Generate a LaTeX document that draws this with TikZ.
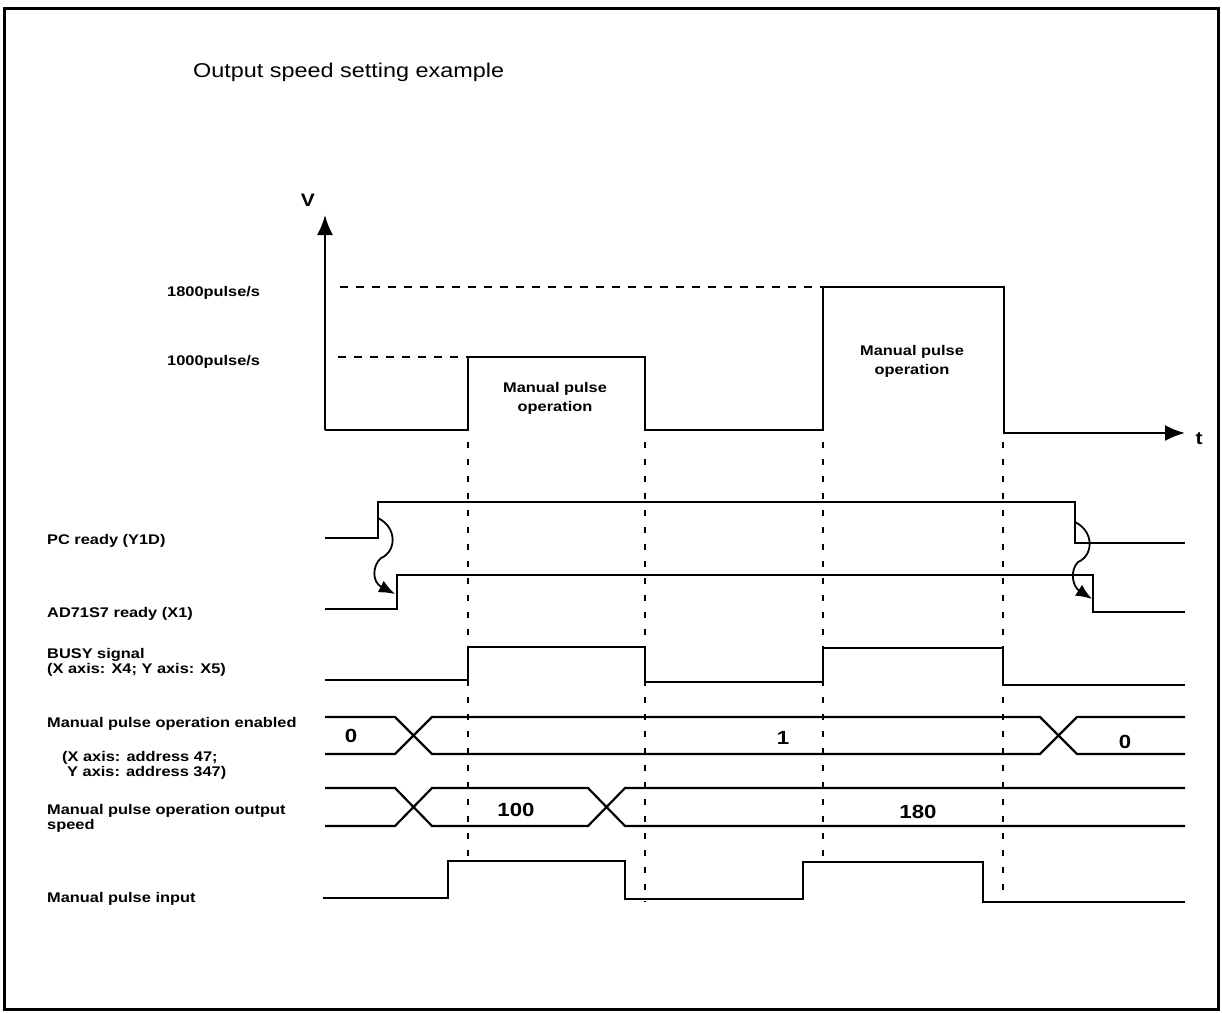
\documentclass[tikz,border=0pt]{standalone}
\usepackage{fontspec}
\setmainfont{Liberation Sans}[FakeStretch=1.17]
\usetikzlibrary{arrows.meta}
\begin{document}
\begin{tikzpicture}[x=1pt,y=-1pt,
  wave/.style={line width=2.2pt},
  guide/.style={line width=2.2pt, dash pattern=on 6pt off 11pt},
  level/.style={line width=1.4pt, dash pattern=on 8pt off 8pt},
  lab/.style={font=\fontsize{14}{15}\selectfont\bfseries, anchor=west, inner sep=0pt, align=left},
  inlab/.style={font=\fontsize{14}{19}\selectfont\bfseries, inner sep=0pt, align=center},
  val/.style={font=\fontsize{19}{22}\selectfont\bfseries, inner sep=0pt},
  bigtip/.style={-{Latex[length=20pt,width=16pt]}},
  smalltip/.style={-{Latex[length=16pt,width=13pt]}},
]
\useasboundingbox (0,0) rectangle (1222,1012);
\draw[line width=3pt] (4,8) rectangle (1218,1009);

% title
\node[font=\fontsize{20}{24}\selectfont, anchor=west, inner sep=0pt] (title) at (193,72) {Output speed setting example};

% axes
\coordinate (O) at (325,430);
\coordinate (Vtip) at (325,215);
\coordinate (Ttip) at (1185,433);
\draw[wave, bigtip] (O) -- (Vtip);
\node[val, font=\fontsize{18}{20}\selectfont\bfseries] (V) at (308,200) {V};
\node[val, font=\fontsize{18}{20}\selectfont\bfseries] (t) at (1199,439) {t};

% speed profile
\draw[wave, bigtip] (O) -- (468,430) -- (468,357) -- (645,357) -- (645,430) -- (823,430) -- (823,287) -- (1004,287) -- (1004,433) -- (Ttip);
\draw[level] (340,287) -- (823,287);
\draw[level] (338,357) -- (468,357);
\node[lab] (s1800) at (167,293) {1800pulse/s};
\node[lab] (s1000) at (167,362) {1000pulse/s};
\node[inlab] (op1) at (555,398) {Manual pulse\\operation};
\node[inlab] (op2) at (912,361) {Manual pulse\\operation};

% vertical guides
\draw[guide] (468,442) -- (468,862);
\draw[guide] (645,442) -- (645,902);
\draw[guide] (823,442) -- (823,862);
\draw[guide] (1003,442) -- (1003,902);

% PC ready / AD71S7 ready
\draw[wave] (325,538) -- (378,538) -- (378,502) -- (1075,502) -- (1075,543) -- (1185,543);
\draw[wave] (325,609) -- (397,609) -- (397,575) -- (1093,575) -- (1093,612) -- (1185,612);
\draw[line width=1.8pt, smalltip] (378,518) .. controls (398,528) and (396,552) .. (381,558) .. controls (372,566) and (372,582) .. (395,594);
\draw[line width=1.8pt, smalltip] (1075,522) .. controls (1095,532) and (1093,556) .. (1078,562) .. controls (1070,570) and (1072,586) .. (1092,599);

% BUSY
\draw[wave] (325,680) -- (468,680) -- (468,647) -- (645,647) -- (645,682) -- (823,682) -- (823,648) -- (1003,648) -- (1003,685) -- (1185,685);

% enabled bus
\draw[wave] (325,717) -- (395,717) -- (432,754) -- (1040,754) -- (1077,717) -- (1185,717);
\draw[wave] (325,754) -- (395,754) -- (432,717) -- (1040,717) -- (1077,754) -- (1185,754);
\node[val] (e0) at (351,736) {0};
\node[val] (e1) at (783,738) {1};
\node[val] (e2) at (1125,742) {0};

% speed bus
\draw[wave] (325,788) -- (395,788) -- (432,826) -- (588,826) -- (625,788) -- (1185,788);
\draw[wave] (325,826) -- (395,826) -- (432,788) -- (588,788) -- (625,826) -- (1185,826);
\node[val] (v100) at (516,810) {100};
\node[val] (v180) at (918,812) {180};

% manual pulse input
\draw[wave] (323,898) -- (448,898) -- (448,861) -- (625,861) -- (625,899) -- (803,899) -- (803,862) -- (983,862) -- (983,902) -- (1185,902);

% left labels
\node[lab] (l1) at (47,541) {PC ready (Y1D)};
\node[lab] (l2) at (47,614) {AD71S7 ready (X1)};
\node[lab] (l3) at (47,662) {BUSY signal\\(X axis: X4; Y axis: X5)};
\node[lab] (l4) at (47,724) {Manual pulse operation enabled};
\node[lab] (l5) at (62,765) {(X axis: address 47;\\\hspace*{5pt}Y axis: address 347)};
\node[lab] (l6) at (47,818) {Manual pulse operation output\\speed};
\node[lab] (l7) at (47,899) {Manual pulse input};
\end{tikzpicture}
\end{document}
